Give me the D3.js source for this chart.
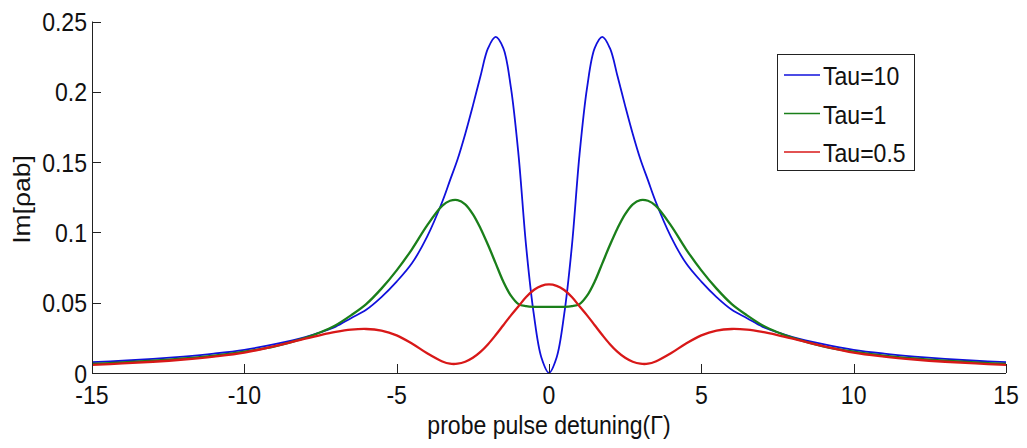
<!DOCTYPE html>
<html>
<head>
<meta charset="utf-8">
<script src="https://cdn.jsdelivr.net/npm/d3@7"></script>
<style>
  html, body { margin: 0; padding: 0; background: #fff; }
  svg { display: block; }
  text { font-family: "Liberation Sans", Arial, Helvetica, sans-serif; fill: #111; }
</style>
</head>
<body>
<svg id="chart" width="1027" height="448"></svg>
<script>
// ---- data ----
const detuning = [-15,-14,-13,-12,-11,-10,-9,-8,-7.5,-7,-6.5,-6,-5.5,-5,-4.5,-4,-3.5,-3.25,-3,-2.75,-2.5,-2.25,-2,-1.75,-1.5,-1.25,-1,-0.75,-0.5,-0.25,
  0,
  0.25,0.5,0.75,1,1.25,1.5,1.75,2,2.25,2.5,2.75,3,3.25,3.5,4,4.5,5,5.5,6,6.5,7,7.5,8,9,10,11,12,13,14,15];

const tau10 = [0.0077,0.0087,0.0100,0.0117,0.0138,0.0165,0.0205,0.0255,0.029,0.033,0.039,0.045,0.054,0.065,0.078,0.097,0.122,0.137,0.152,0.170,0.190,0.211,0.231,0.239,0.231,0.203,0.155,0.090,0.042,0.011,
  0.000,
  0.011,0.042,0.090,0.155,0.203,0.231,0.239,0.231,0.211,0.190,0.170,0.152,0.137,0.122,0.097,0.078,0.065,0.054,0.045,0.039,0.033,0.029,0.0255,0.0205,0.0165,0.0138,0.0117,0.0100,0.0087,0.0077];

const tau1 = [0.0065,0.0075,0.0087,0.0103,0.0124,0.0152,0.019,0.025,0.029,0.034,0.041,0.049,0.060,0.073,0.088,0.105,0.119,0.1225,0.123,0.120,0.113,0.103,0.091,0.078,0.065,0.055,0.049,0.0475,0.047,0.047,
  0.047,
  0.047,0.047,0.0475,0.049,0.055,0.065,0.078,0.091,0.103,0.113,0.120,0.123,0.1225,0.119,0.105,0.088,0.073,0.060,0.049,0.041,0.034,0.029,0.025,0.019,0.0152,0.0124,0.0103,0.0087,0.0075,0.0065];

const tau05 = [0.0058,0.0068,0.0080,0.0096,0.0117,0.0145,0.0192,0.0245,0.0270,0.0292,0.0308,0.0313,0.0302,0.0268,0.0210,0.0140,0.0082,0.0066,0.0066,0.0080,0.0108,0.0150,0.0205,0.0270,0.0340,0.0410,0.0475,0.0540,0.0590,0.0620,
  0.0630,
  0.0620,0.0590,0.0540,0.0475,0.0410,0.0340,0.0270,0.0205,0.0150,0.0108,0.0080,0.0066,0.0066,0.0082,0.0140,0.0210,0.0268,0.0302,0.0313,0.0308,0.0292,0.0270,0.0245,0.0192,0.0145,0.0117,0.0096,0.0080,0.0068,0.0058];

const seriesNames = ["Tau=10", "Tau=1", "Tau=0.5"];
const seriesColors = ["#1010dc", "#1a7f1a", "#d81818"];
const seriesWidths = [1.8, 2.3, 2.3];

const xTicks = [-15,-10,-5,0,5,10,15];
const xTickLabels = ["-15","-10","-5","0","5","10","15"];
const yTicks = [0,0.05,0.1,0.15,0.2,0.25];
const yTickLabels = ["0","0.05","0.1","0.15","0.2","0.25"];
const xTitle = "probe pulse detuning(\u0393)";
const yTitle = "Im[\u03C1ab]";

// ---- layout ----
const svg = d3.select("#chart");
const padL = 92, padR = 1006, padT = 21.5, padB = 373;
const FS = 26.5, SQ = 0.87;

const x = d3.scaleLinear().domain([-15, 15]).range([padL, padR]);
const y = d3.scaleLinear().domain([0, 0.25]).range([padB, padT]);

svg.append("rect").attr("width", 1027).attr("height", 448).attr("fill", "#fff");

function label(g, tx, ty, str, anchor) {
  return g.append("text")
    .attr("transform", `translate(${tx},${ty}) scale(${SQ},1)`)
    .attr("text-anchor", anchor)
    .style("font-size", FS + "px")
    .text(str);
}

// curves
const series = [tau10, tau1, tau05];
const line = d3.line()
  .x((d, i) => x(detuning[i]))
  .y(d => y(d))
  .curve(d3.curveCatmullRom.alpha(0.5));

const plot = svg.append("g");
series.forEach((s, k) => {
  plot.append("path")
    .datum(s)
    .attr("d", line)
    .attr("fill", "none")
    .attr("stroke", seriesColors[k])
    .attr("stroke-width", seriesWidths[k])
    .attr("stroke-linejoin", "round");
});

// axes (MATLAB style: ticks inward, left and bottom lines only)
const axes = svg.append("g").attr("stroke", "#222").attr("stroke-width", 1);
axes.append("line").attr("x1", padL).attr("x2", padR).attr("y1", padB + 0.5).attr("y2", padB + 0.5);
axes.append("line").attr("x1", padL + 0.5).attr("x2", padL + 0.5).attr("y1", y(0.25)).attr("y2", padB);

const tl = 9;
xTicks.forEach(v => {
  const px = Math.round(x(v)) + 0.5;
  axes.append("line").attr("x1", px).attr("x2", px).attr("y1", padB).attr("y2", padB - tl);
});
yTicks.forEach(v => {
  const py = Math.round(y(v)) + 0.5;
  axes.append("line").attr("x1", padL).attr("x2", padL + tl).attr("y1", py).attr("y2", py);
});

const tg = svg.append("g");
xTicks.forEach((v, i) => label(tg, x(v), padB + 31, xTickLabels[i], "middle"));
yTicks.forEach((v, i) => label(tg, padL - 5, y(v) + 9.5, yTickLabels[i], "end"));

label(tg, (padL + padR) / 2, 434, xTitle, "middle");
tg.append("text")
  .attr("transform", `translate(30,199.5) rotate(-90) scale(1,${SQ})`)
  .attr("text-anchor", "middle")
  .style("font-size", FS + "px")
  .text(yTitle);

// legend
const lg = svg.append("g");
lg.append("rect").attr("x", 777.5).attr("y", 54.5).attr("width", 137).attr("height", 116)
  .attr("fill", "#fff").attr("stroke", "#222").attr("stroke-width", 1);
const legY = [75, 113.5, 152];
seriesNames.forEach((n, k) => {
  lg.append("line").attr("x1", 784).attr("x2", 820).attr("y1", legY[k]).attr("y2", legY[k])
    .attr("stroke", seriesColors[k]).attr("stroke-width", 1.6);
  label(lg, 823, legY[k] + 10, n, "start");
});
</script>
</body>
</html>
